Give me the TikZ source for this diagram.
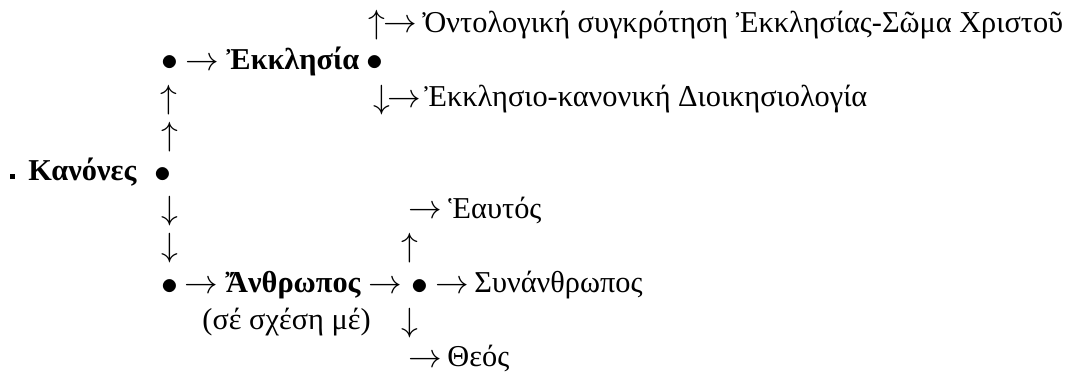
\documentclass[tikz,border=0pt]{standalone}
\usepackage{fontspec}
\setmainfont{Liberation Serif}
\usepackage{tikz}

\begin{document}
\begin{tikzpicture}[x=0.4286pt, y=-0.4286pt,
        every node/.style={inner sep=0pt, font=\fontsize{13}{15}\selectfont},
        txt/.style={anchor=base west},
        sym/.style={anchor=base, font=\fontsize{15}{17}\selectfont},
        hsym/.style={anchor=base, font=\fontsize{13.5}{15}\selectfont}]
        \useasboundingbox (0,0) rectangle (1070,375);

        % Row 1
        \node[sym] (up1) at (377,33.75) {$\uparrow$};
        \node[hsym] (ar1) at (400,32.9) {$\rightarrow$};
        \node[txt] (ont) at (422,32) {Ὀντολογική συγκρότηση Ἐκκλησίας-Σῶμα Χριστοῦ};

        % Row 2
        \node[sym] (dotE) at (170,70.95) {$\bullet$};
        \node[hsym] (ar2) at (202,70.1) {$\rightarrow$};
        \node[txt] (ekk) at (226,69.2) {\bfseries Ἐκκλησία};
        \node[sym] (dotR) at (375,70.95) {$\bullet$};

        % Row 3
        \node[sym] (up3) at (169,108.15) {$\uparrow$};
        \node[sym] (dn3) at (382,108.15) {$\downarrow$};
        \node[hsym] (ar3) at (404,107.3) {$\rightarrow$};
        \node[txt] (dioik) at (424,106.4) {Ἐκκλησιο-κανονική Διοικησιολογία};

        % Row 4
        \node[sym] (up4) at (170,145.35) {$\uparrow$};

        % Row 5
        \node[fill, minimum size=2.1pt] (sq) at (12.5,176.5) {};
        \node[txt] (kan) at (28,180.8) {\bfseries Κανόνες};
        \node[sym] (dotK) at (163,182.55) {$\bullet$};

        % Row 6
        \node[sym] (dn6) at (170,219.75) {$\downarrow$};
        \node[hsym] (ar6) at (425,218.9) {$\rightarrow$};
        \node[txt] (eaut) at (448,218) {Ἑαυτός};

        % Row 7
        \node[sym] (dn7) at (170,256.95) {$\downarrow$};
        \node[sym] (up7) at (410,256.95) {$\uparrow$};

        % Row 8
        \node[sym] (dotA) at (170,294.15) {$\bullet$};
        \node[hsym] (ar8a) at (201,293.3) {$\rightarrow$};
        \node[txt] (anth) at (225,292.4) {\bfseries Ἄνθρωπος};
        \node[hsym] (ar8b) at (385,293.3) {$\rightarrow$};
        \node[sym] (dotS) at (420,294.15) {$\bullet$};
        \node[hsym] (ar8c) at (452,293.3) {$\rightarrow$};
        \node[txt] (syn) at (474,292.4) {Συνάνθρωπος};

        % Row 9
        \node[txt] (sxesi) at (202,329.6) {(σέ σχέση μέ)};
        \node[sym] (dn9) at (410,331.35) {$\downarrow$};

        % Row 10
        \node[hsym] (ar10) at (425,367.7) {$\rightarrow$};
        \node[txt] (theos) at (447,366.8) {Θεός};

\end{tikzpicture}
\end{document}
